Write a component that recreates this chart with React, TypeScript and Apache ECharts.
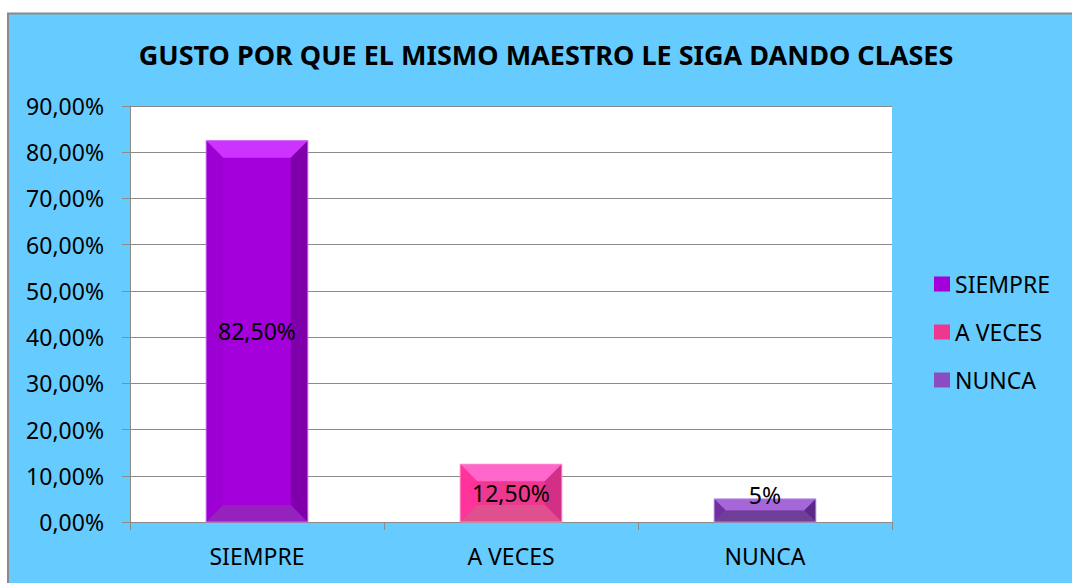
import React, { useEffect, useRef } from "react";
import * as echarts from "echarts";

const titleText = "GUSTO POR QUE EL MISMO MAESTRO LE SIGA DANDO CLASES";
const categories = ["SIEMPRE", "A VECES", "NUNCA"];
const values = [82.5, 12.5, 5];
const valueLabels = ["82,50%", "12,50%", "5%"];
const yMin = 0;
const yMax = 90;
const yInterval = 10;

// bevel palettes: [front, top, left, right, bottom, outline]
const palettes = [
  ["#A300DB", "#CC33FF", "#9C00D2", "#7F00AA", "#9522BE", "#C866F2"],
  ["#EE3890", "#FF66CC", "#FF3399", "#D42F86", "#E0508F", "#FF88CC"],
  ["#8A4CC0", "#A566D9", "#7030A0", "#5C2888", "#6F3F97", "#B088E0"],
];

const FONT = "'Noto Sans', 'DejaVu Sans', sans-serif";
const GRAY = "#8A8A8A";
const FS = 23;

export default function App() {
  const ref = useRef<HTMLDivElement>(null);

  useEffect(() => {
    if (!ref.current) return;
    const chart = echarts.init(ref.current, undefined, { renderer: "svg" });

    const renderItem = (params: any, api: any) => {
      const idx = api.value(0);
      const val = api.value(1);
      const pal = palettes[idx];
      const topPt = api.coord([idx, val]);
      const basePt = api.coord([idx, 0]);
      const bw = api.size([1, 0])[0] * 0.4;
      const l = topPt[0] - bw / 2;
      const r = l + bw;
      const t = topPt[1];
      const b = basePt[1];
      const h = b - t;
      const bv = Math.min(17, h / 2, bw / 2);
      const labelY = h > 40 ? (t + b) / 2 : t - 4;
      return {
        type: "group",
        children: [
          { type: "rect", shape: { x: l, y: t, width: bw, height: h }, style: { fill: pal[0] } },
          { type: "polygon", shape: { points: [[l, t], [r, t], [r - bv, t + bv], [l + bv, t + bv]] }, style: { fill: pal[1] } },
          { type: "polygon", shape: { points: [[l, t], [l + bv, t + bv], [l + bv, b - bv], [l, b]] }, style: { fill: pal[2] } },
          { type: "polygon", shape: { points: [[r, t], [r, b], [r - bv, b - bv], [r - bv, t + bv]] }, style: { fill: pal[3] } },
          { type: "polygon", shape: { points: [[l, b], [l + bv, b - bv], [r - bv, b - bv], [r, b]] }, style: { fill: pal[4] } },
          { type: "rect", shape: { x: l, y: t, width: bw, height: h }, style: { fill: "none", stroke: pal[5], lineWidth: 1 } },
          {
            type: "text",
            x: topPt[0],
            y: labelY,
            style: {
              text: valueLabels[idx],
              fill: "#000",
              font: `${FS}px ${FONT}`,
              align: "center",
              verticalAlign: "middle",
            },
          },
        ],
      };
    };

    const series = categories.map((name, i) => ({
      type: "custom",
      name,
      renderItem,
      itemStyle: { color: palettes[i][0] },
      encode: { x: 0, y: 1 },
      data: [[i, values[i]]],
      z: 3,
    }));

    chart.setOption({
      animation: false,
      backgroundColor: "transparent",
      graphic: [
        {
          type: "rect",
          z: -10,
          shape: { x: 8, y: 13.5, width: 1100, height: 620 },
          style: { fill: "#66CCFF", stroke: GRAY, lineWidth: 2 },
        },
        {
          type: "text",
          x: 546,
          y: 54,
          style: {
            text: titleText,
            fill: "#000",
            font: `bold 27px ${FONT}`,
            align: "center",
            verticalAlign: "middle",
          },
        },
      ],
      grid: {
        left: 130,
        right: 180,
        top: 106,
        bottom: 61,
        show: true,
        backgroundColor: "#FFFFFF",
        borderWidth: 0,
        containLabel: false,
      },
      legend: {
        orient: "vertical",
        left: 929,
        top: 267,
        icon: "rect",
        itemWidth: 16,
        itemHeight: 15,
        itemGap: 24,
        data: categories,
        textStyle: { fontSize: FS, fontFamily: FONT, color: "#000", lineHeight: 24 },
      },
      xAxis: {
        type: "category",
        data: categories,
        axisLine: { show: true, lineStyle: { color: GRAY, width: 1 } },
        axisTick: { show: true, length: 8, lineStyle: { color: GRAY } },
        axisLabel: { color: "#000", fontSize: FS, fontFamily: FONT, margin: 22 },
        splitLine: { show: false },
      },
      yAxis: {
        type: "value",
        min: yMin,
        max: yMax,
        interval: yInterval,
        axisLine: { show: true, lineStyle: { color: GRAY, width: 1 } },
        axisTick: { show: true, length: 8, lineStyle: { color: GRAY } },
        axisLabel: {
          color: "#000",
          fontSize: FS,
          fontFamily: FONT,
          margin: 26,
          formatter: (v: number) => v.toFixed(2).replace(".", ",") + "%",
        },
        splitLine: { show: true, lineStyle: { color: GRAY, width: 1 } },
      },
      series,
    });

    return () => chart.dispose();
  }, []);

  return (
    <div
      ref={ref}
      style={{ position: "absolute", left: 0, top: 0, width: 1072, height: 583, background: "#FFFFFF" }}
    />
  );
}
